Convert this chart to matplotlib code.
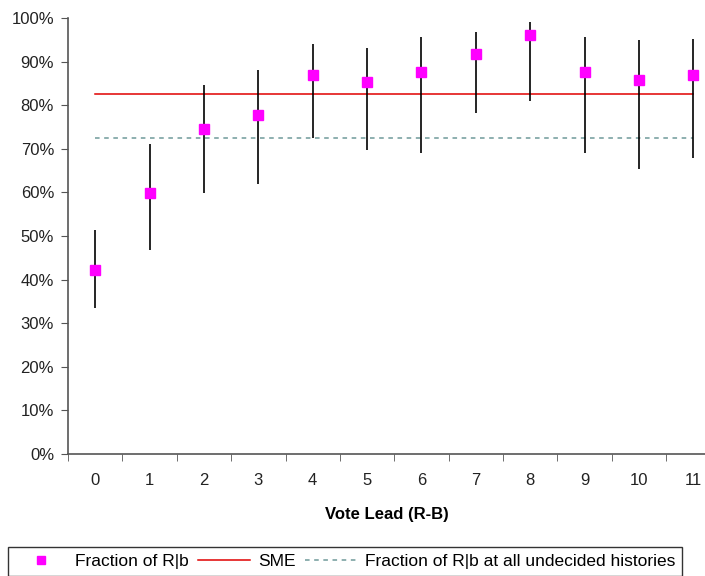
import matplotlib
matplotlib.use("Agg")
import matplotlib.pyplot as plt
from matplotlib.ticker import FixedLocator, PercentFormatter
import numpy as np

plt.rcParams['font.family'] = ['Liberation Sans', 'DejaVu Sans']

# data (percent)
vote_lead = np.arange(12)
fraction = [42.2, 59.8, 74.5, 77.8, 86.9, 85.4, 87.6, 91.7, 96.1, 87.6, 85.7, 86.9]
upper = [51.4, 71.0, 84.6, 88.0, 94.0, 93.2, 95.6, 96.7, 99.1, 95.6, 94.9, 95.1]
lower = [33.5, 46.8, 59.8, 61.9, 72.5, 69.8, 69.0, 78.1, 81.0, 69.0, 65.4, 68.0]
sme = 82.5
undecided = 72.4


def main():
    fig = plt.figure(figsize=(7.05, 5.76), dpi=100)
    ax = fig.add_axes([68 / 705, 1 - 454 / 576, 1 - 68 / 705, (454 - 18) / 576])

    frac = np.array(fraction)
    yerr = [frac - np.array(lower), np.array(upper) - frac]
    ax.errorbar(vote_lead, frac, yerr=yerr, fmt='none', ecolor='black', elinewidth=1.2, capsize=0, zorder=2)
    ax.plot(vote_lead, frac, 's', color='#ff00ff', markersize=7, label='Fraction of R|b', zorder=3)

    ends = vote_lead[[0, -1]]
    ax.plot(ends, [sme, sme], color='#e00000', lw=1.1, label='SME', zorder=1)
    ax.plot(ends, [undecided, undecided], color='#6f9a9a', lw=1.1, ls=(0, (3, 3)),
            label='Fraction of R|b at all undecided histories', zorder=1)

    ax.set_xlim(-0.5, (705 - 95) / 54.4)
    ax.set_ylim(0, 100)
    ax.set_yticks(np.arange(0, 101, 10))
    ax.yaxis.set_major_formatter(PercentFormatter(decimals=0))
    ax.set_xticks(vote_lead)
    ax.xaxis.set_minor_locator(FixedLocator(np.arange(-0.5, 11.6, 1)))
    ax.tick_params(axis='x', which='major', length=0, pad=14, labelsize=12, labelcolor='#222222')
    ax.tick_params(axis='x', which='minor', length=5, direction='out', color='#555555')
    ax.tick_params(axis='y', length=5, direction='out', pad=5, labelsize=12, color='#555555', labelcolor='#222222')

    for s in ['top', 'right']:
        ax.spines[s].set_visible(False)
    for s in ['left', 'bottom']:
        ax.spines[s].set_color('#555555')
        ax.spines[s].set_linewidth(1.2)

    ax.set_xlabel('Vote Lead (R-B)', fontsize=12, fontweight='bold', labelpad=13)

    leg = fig.legend(loc='upper left', bbox_to_anchor=(8 / 705, 1 - 547 / 576),
                     borderaxespad=0, ncol=3, fontsize=12.5, frameon=True, fancybox=False,
                     handlelength=3.0, handletextpad=0.45, columnspacing=0.55, borderpad=0.4,
                     numpoints=1, markerscale=0.75)
    leg.get_frame().set_edgecolor('black')
    leg.get_frame().set_linewidth(1.0)

    fig.savefig('out.png', dpi=100)


if __name__ == '__main__':
    main()
